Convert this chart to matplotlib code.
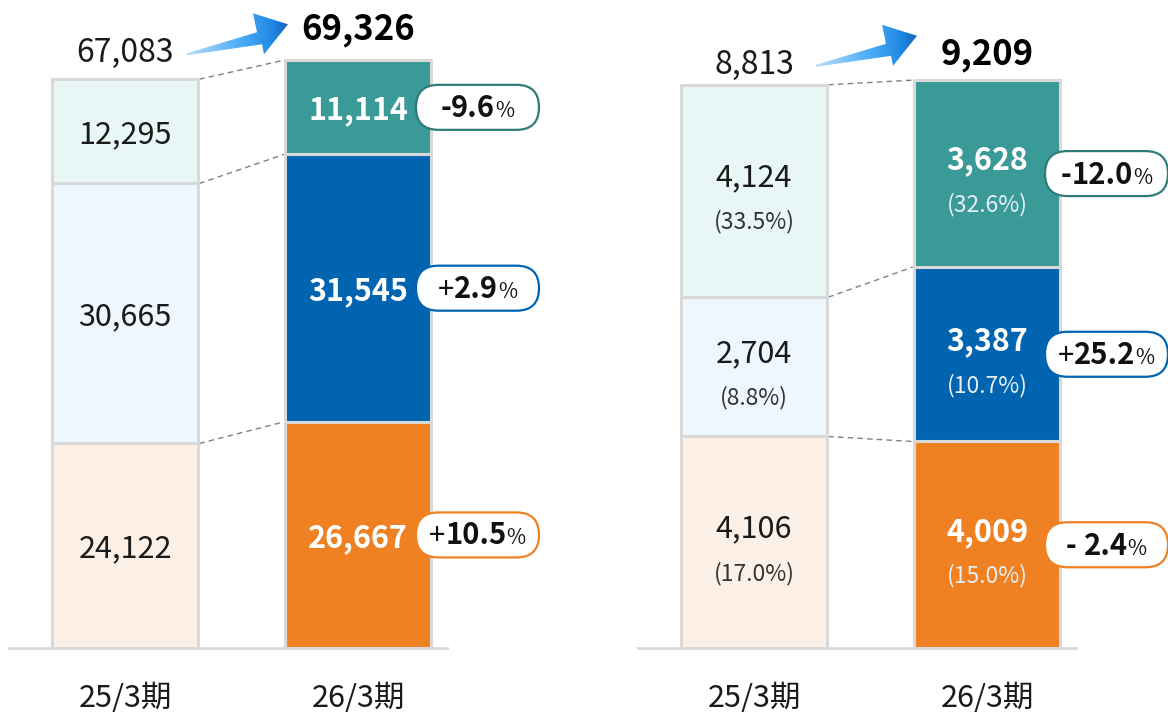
import numpy as np
import matplotlib
matplotlib.use('Agg')
import matplotlib.pyplot as plt
from matplotlib.patches import FancyBboxPatch, Polygon
from matplotlib.offsetbox import TextArea, HPacker, AnnotationBbox
from matplotlib.colors import LinearSegmentedColormap

plt.rcParams['font.family'] = ['Noto Sans CJK JP', 'DejaVu Sans']

# ---- データ ----
periods = ['25/3期', '26/3期']

# 左パネル (下段, 中段, 上段)
left_prev = [24122, 30665, 12295]
left_curr = [26667, 31545, 11114]
left_totals = ['67,083', '69,326']
left_sign = ['+', '+', '-']
left_rate = ['10.5', '2.9', '9.6']

# 右パネル (下段, 中段, 上段)
right_prev = [4106, 2704, 4124]
right_curr = [4009, 3387, 3628]
right_prev_share = ['(17.0%)', '(8.8%)', '(33.5%)']
right_curr_share = ['(15.0%)', '(10.7%)', '(32.6%)']
right_totals = ['8,813', '9,209']
right_sign = ['- ', '+', '-']
right_rate = ['2.4', '25.2', '12.0']

# ---- 色 ----
dark = ['#f08122', '#0064b1', '#3a9a97']
light = ['#fcefe5', '#eef6fe', '#e8f6f5']
ring = ['#f08122', '#0064b1', '#2f7b77']
edge = '#d9d9d9'

W, H = 1168, 712
fig = plt.figure(figsize=(W / 100, H / 100), dpi=100)
fig.patch.set_facecolor('white')

PT = 0.72          # px -> pt
bar_w = 0.627      # 146px / 233px
VA = -3            # correction verticale du texte (px)

# overlay en pixels pour les flèches et les pastilles
ov = fig.add_axes([0, 0, 1, 1], zorder=5)
ov.patch.set_alpha(0)
ov.axis('off')

arrow_cmap = LinearSegmentedColormap.from_list(
    'arr', [(0, '#b8defc'), (0.55, '#4aaaf6'), (0.85, '#2088e2'), (1, '#1463bd')])
arrow_shape = [(0, -1), (70, -22), (66, -41), (101, -30), (77, 0), (75, -10), (0, 1)]


def seg_mid(vals):
    cum = np.cumsum(vals)
    return cum - np.array(vals) / 2


def panel(left_px, width_px, ymax, prev, curr, totals, sign, rate,
          prev_share=None, curr_share=None, tot_off=(29, 34)):
    ax = fig.add_axes([left_px / W, (H - 648) / H, width_px / W, 648 / H])
    x0 = 125 - 8 if left_px < 500 else 154
    ax.set_xlim(-x0 / 233, (width_px - x0) / 233)
    ax.set_ylim(0, ymax)
    ax.axis('off')
    x = np.arange(2)

    for i, vals in enumerate([prev, curr]):
        bottoms = np.r_[0, np.cumsum(vals)[:-1]]
        ax.bar([x[i]] * 3, vals, bottom=bottoms, width=bar_w,
               color=light if i == 0 else dark, edgecolor=edge, linewidth=2.2, zorder=2)
        shares = prev_share if i == 0 else curr_share
        for k, (v, m) in enumerate(zip(vals, seg_mid(vals))):
            col = '#1a1a1a' if i == 0 else 'white'
            wt = 'normal' if i == 0 else 'bold'
            dy = 0 if shares is None else 16
            ax.annotate(f'{v:,}', (x[i], m), xytext=(0, (dy + VA) * PT), textcoords='offset points',
                        ha='center', va='center', fontsize=22, color=col, weight=wt, zorder=4)
            if shares is not None:
                ax.annotate(shares[k], (x[i], m), xytext=(0, (-28 + VA) * PT), textcoords='offset points',
                            ha='center', va='center', fontsize=16.5,
                            color='#333333' if i == 0 else '#e6eef5', zorder=4)

    # ligne de base
    ax.plot([-0.5, 1.38], [0, 0], color=edge, lw=2, clip_on=False, zorder=1)

    # pointillés entre les barres
    cp, cc = np.cumsum(prev), np.cumsum(curr)
    for a, b in zip(cp, cc):
        ax.plot([bar_w / 2 + 0.005, 1 - bar_w / 2 - 0.005], [a, b], color='#808080',
                lw=1, ls=(0, (4, 3)), zorder=1)

    # totaux
    ax.annotate(totals[0], (0, cp[-1]), xytext=(0, (tot_off[0] + VA) * PT), textcoords='offset points',
                ha='center', va='center', fontsize=23, color='#1a1a1a')
    ax.annotate(totals[1], (1, cc[-1]), xytext=(0, (tot_off[1] + VA) * PT), textcoords='offset points',
                ha='center', va='center', fontsize=25, weight='bold', color='black')

    # axe x
    for i, p in enumerate(periods):
        ax.annotate(p, (x[i], 0), xytext=(0, (-47 + VA) * PT), textcoords='offset points',
                    ha='center', va='center', fontsize=22, color='#1a1a1a')

    # flèche dégradée
    tx, ty = ax.transData.transform((0, cp[-1]))
    tx += 62
    ty += tot_off[0] - 4
    pts = [(tx + dx, ty - dy) for dx, dy in arrow_shape]
    poly = Polygon(pts, closed=True, fc='none', ec='none')
    ov.add_patch(poly)
    grad = np.linspace(0, 1, 256).reshape(1, -1)
    im = ov.imshow(grad, cmap=arrow_cmap, aspect='auto',
                   extent=(tx, tx + 101, ty - 1, ty + 41), origin='lower')
    im.set_clip_path(poly)

    # pastilles de variation
    for k, m in enumerate(seg_mid(curr)):
        cx, cy = ax.transData.transform((1 + 119.5 / 233, m))
        ov.add_patch(FancyBboxPatch((cx - 61.5, cy - 22.5), 123, 45,
                                    boxstyle='round,pad=0,rounding_size=22.5',
                                    fc='white', ec=ring[k], lw=1.6, zorder=3))
        s_wt = 'normal' if sign[k].strip() == '+' else 'bold'
        parts = [TextArea(sign[k], textprops=dict(fontsize=21, weight=s_wt, color='#111111')),
                 TextArea(rate[k], textprops=dict(fontsize=21, weight='bold', color='#111111')),
                 TextArea('%', textprops=dict(fontsize=15, color='#111111'))]
        pack = HPacker(children=parts, align='baseline', pad=0, sep=0)
        ov.add_artist(AnnotationBbox(pack, (cx, cy - 1), xycoords='data', frameon=False,
                                     box_alignment=(0.5, 0.5), zorder=4))
    return ax


axL = panel(8, 552, 76430, left_prev, left_curr, left_totals, left_sign, left_rate,
            tot_off=(29, 34))
axR = panel(600, 568, 12580, right_prev, right_curr, right_totals, right_sign, right_rate,
            right_prev_share, right_curr_share, tot_off=(23, 29))

ov.set_xlim(0, W)
ov.set_ylim(0, H)

fig.savefig('out.png', dpi=100)
